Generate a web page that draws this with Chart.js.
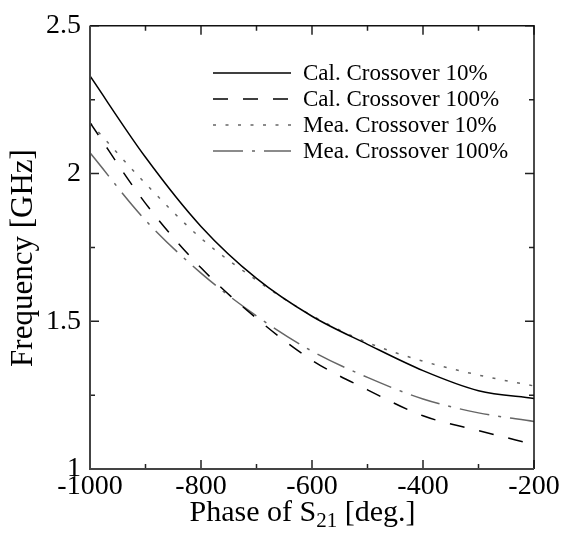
<!DOCTYPE html>
<html>
<head>
<meta charset="utf-8">
<title>Frequency vs Phase of S21</title>
<script src="https://cdn.jsdelivr.net/npm/chart.js@4.4.1/dist/chart.umd.min.js"></script>
<style>
    html, body { margin: 0; padding: 0; background: #fff; }
    #wrap { width: 565px; height: 534px; }
</style>
</head>
<body>
<div id="wrap"><canvas id="chart" width="565" height="534"></canvas></div>
<script>
// ===========================
// Data
// ===========================
const phase = [-1000, -900, -800, -700, -600, -500, -400, -300, -200];

const calCross10 = [2.330, 2.055, 1.821, 1.645, 1.517, 1.422, 1.333, 1.265, 1.239];
const calCross100 = [2.172, 1.899, 1.681, 1.510, 1.368, 1.268, 1.180, 1.130, 1.083];
const meaCross10 = [2.172, 1.966, 1.781, 1.639, 1.519, 1.428, 1.365, 1.318, 1.281];
const meaCross100 = [2.070, 1.842, 1.663, 1.518, 1.399, 1.310, 1.237, 1.190, 1.161];

const seriesLabels = ['Cal. Crossover 10%', 'Cal. Crossover 100%', 'Mea. Crossover 10%', 'Mea. Crossover 100%'];
const xTicks = [-1000, -800, -600, -400, -200];
const yTicks = [1, 1.5, 2, 2.5];

const FONT = '"Liberation Serif", "Times New Roman", serif';

function toPoints(values) {
    return phase.map((p, i) => ({ x: p, y: values[i] }));
}

function makeSet(label, values, color, dash) {
    return {
        label: label,
        data: toPoints(values),
        borderColor: color,
        borderWidth: 1.5,
        borderDash: dash,
        pointRadius: 0,
        fill: false,
        cubicInterpolationMode: 'monotone'
    };
}

const datasets = [
    makeSet(seriesLabels[0], calCross10, '#000', []),
    makeSet(seriesLabels[1], calCross100, '#000', [15, 15]),
    makeSet(seriesLabels[2], meaCross10, '#666', [3, 9.5]),
    makeSet(seriesLabels[3], meaCross100, '#666', [30, 9, 3, 9])
];

/**
 * Marco, ticks hacia dentro, titulos y leyenda
 */
const framePlugin = {
    id: 'frame',
    afterDatasetsDraw(chart) {
        const { ctx, chartArea: a, scales } = chart;
        const xs = scales.x, ys = scales.y;
        ctx.save();

        // Ticks (mayores y menores) en los cuatro lados
        ctx.strokeStyle = '#222';
        ctx.lineWidth = 1.5;
        ctx.beginPath();
        for (let v = -1000; v <= -200; v += 100) {
            const px = xs.getPixelForValue(v);
            const len = (v % 200 === 0) ? 9 : 5;
            ctx.moveTo(px, a.bottom); ctx.lineTo(px, a.bottom - len);
            ctx.moveTo(px, a.top); ctx.lineTo(px, a.top + len);
        }
        for (let v = 1; v <= 2.5001; v += 0.25) {
            const py = ys.getPixelForValue(v);
            const major = Math.abs(v * 2 - Math.round(v * 2)) < 1e-6;
            const len = major ? 9 : 5;
            ctx.moveTo(a.left, py); ctx.lineTo(a.left + len, py);
            ctx.moveTo(a.right, py); ctx.lineTo(a.right - len, py);
        }
        ctx.stroke();

        // Marco
        ctx.strokeStyle = '#111';
        ctx.lineWidth = 1.5;
        ctx.beginPath();
        ctx.moveTo(a.left, a.top); ctx.lineTo(a.right, a.top); ctx.lineTo(a.right, a.bottom);
        ctx.stroke();
        ctx.strokeStyle = '#444';
        ctx.lineWidth = 2;
        ctx.beginPath();
        ctx.moveTo(a.left, a.top); ctx.lineTo(a.left, a.bottom); ctx.lineTo(a.right, a.bottom);
        ctx.stroke();

        // Leyenda
        const legX0 = 213, legX1 = 291, legTextX = 303, legY0 = 73, legDy = 26;
        ctx.font = '23px ' + FONT;
        ctx.textBaseline = 'middle';
        ctx.textAlign = 'left';
        datasets.forEach((ds, i) => {
            const yy = legY0 + i * legDy;
            ctx.strokeStyle = ds.borderColor;
            ctx.lineWidth = ds.borderWidth;
            ctx.setLineDash(ds.borderDash);
            ctx.beginPath();
            ctx.moveTo(legX0, yy); ctx.lineTo(legX1, yy);
            ctx.stroke();
            ctx.setLineDash([]);
            ctx.fillStyle = '#000';
            ctx.fillText(ds.label, legTextX, yy + 1);
        });

        // Titulo eje Y
        ctx.save();
        ctx.translate(24, 258);
        ctx.rotate(-Math.PI / 2);
        ctx.font = '31px ' + FONT;
        ctx.textAlign = 'center';
        ctx.textBaseline = 'middle';
        ctx.fillText('Frequency [GHz]', 0, 0);
        ctx.restore();

        // Titulo eje X con subindice
        const big = '30px ' + FONT, small = '21px ' + FONT;
        const p1 = 'Phase of S', sub = '21', p2 = ' [deg.]';
        ctx.font = big; const w1 = ctx.measureText(p1).width; const w3 = ctx.measureText(p2).width;
        ctx.font = small; const w2 = ctx.measureText(sub).width;
        let tx = 302.5 - (w1 + w2 + w3) / 2;
        const base = 521;
        ctx.textBaseline = 'alphabetic';
        ctx.textAlign = 'left';
        ctx.font = big; ctx.fillText(p1, tx, base); tx += w1;
        ctx.font = small; ctx.fillText(sub, tx, base + 6); tx += w2;
        ctx.font = big; ctx.fillText(p2, tx, base);

        ctx.restore();
    }
};

function initChart() {
    const ctx = document.getElementById('chart');
    new Chart(ctx, {
        type: 'line',
        data: { datasets: datasets },
        options: {
            responsive: false,
            animation: false,
            devicePixelRatio: 1,
            layout: { padding: { top: 22, right: 31, left: 0, bottom: 0 } },
            plugins: {
                legend: { display: false },
                tooltip: { enabled: false }
            },
            scales: {
                x: {
                    type: 'linear',
                    min: -1000,
                    max: -200,
                    afterBuildTicks: s => { s.ticks = xTicks.map(v => ({ value: v })); },
                    afterFit: s => { s.height = 65; },
                    grid: { display: false, drawTicks: false },
                    border: { display: false },
                    ticks: {
                        color: '#000',
                        padding: 1,
                        maxRotation: 0,
                        autoSkip: false,
                        font: { family: FONT, size: 28 },
                        callback: v => String(v)
                    }
                },
                y: {
                    type: 'linear',
                    min: 1,
                    max: 2.5,
                    afterBuildTicks: s => { s.ticks = yTicks.map(v => ({ value: v })); },
                    afterFit: s => { s.width = 90; },
                    grid: { display: false, drawTicks: false },
                    border: { display: false },
                    ticks: {
                        color: '#000',
                        padding: 9,
                        autoSkip: false,
                        font: { family: FONT, size: 28 },
                        callback: v => String(v)
                    }
                }
            }
        },
        plugins: [framePlugin]
    });
}

initChart();
</script>
</body>
</html>
